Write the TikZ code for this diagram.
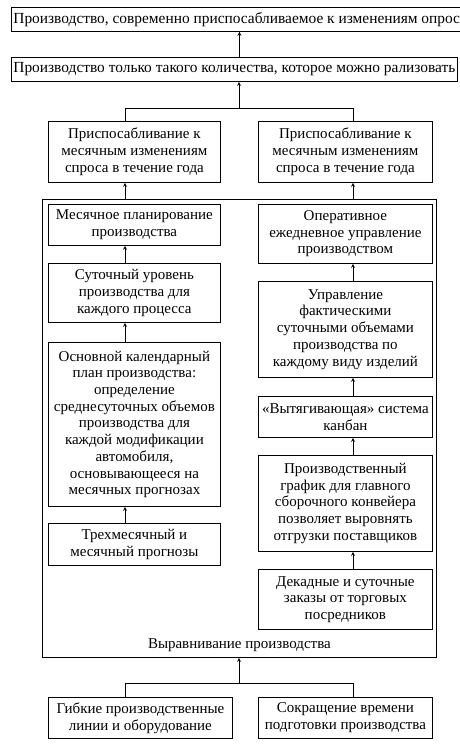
\documentclass[tikz,border=0pt]{standalone}
\usepackage{fontspec}
\setmainfont{Liberation Serif}
\usetikzlibrary{positioning}
\usetikzlibrary{arrows}
\tikzset{box/.style={draw, line width=0.8pt, inner sep=0pt, align=center, anchor=north west,
  font=\fontsize{15}{16.7}\selectfont}}
\tikzset{arr/.style={-stealth, line width=0.8pt}}
\tikzset{wide/.style={box, inner xsep=2pt, minimum height=24pt, font=\fontsize{15.4}{16.7}\selectfont}}
\begin{document}
\begin{tikzpicture}[x=1pt,y=-1pt]
\useasboundingbox (0,0) rectangle (459,749);
\coordinate (colL) at (125,0);
\coordinate (colR) at (353,0);
% top
\node[wide] (top1) at (11,7) {Производство, современно приспосабливаемое к изменениям опроса};
\node[wide] (top2) at (11,57) {Производство только такого количества, которое можно рализовать};
\node[box, minimum width=172pt, minimum height=61pt] (adaptL) at (48,121) {Приспосабливание к\\ месячным изменениям\\ спроса в течение года};
\node[box, minimum width=174pt, minimum height=61pt] (adaptR) at (258,121) {Приспосабливание к\\ месячным изменениям\\ спроса в течение года};
% levelling frame
\node[draw, line width=0.8pt, inner sep=0pt, anchor=north west, minimum width=394pt, minimum height=458pt] (level) at (42,199) {};
\node[font=\fontsize{15}{16.7}\selectfont, inner sep=0pt] (levlab) at ([yshift=13pt]level.south) {Выравнивание производства};
% left column
\node[box, minimum width=172pt, minimum height=41pt] (month) at (48,204) {Месячное планирование\\ производства};
\node[box, minimum width=172pt, minimum height=59pt] (daily) at (48,263) {Суточный уровень\\ производства для\\ каждого процесса};
\node[box, minimum width=172pt, minimum height=164pt] (master) at (48,342) {Основной календарный\\ план производства:\\ определение\\ среднесуточных объемов\\ производства для\\ каждой модификации\\ автомобиля,\\ основывающееся на\\ месячных прогнозах};
\node[box, minimum width=172pt, minimum height=42pt] (fcast) at (48,523) {Трехмесячный и\\ месячный прогнозы};
% right column
\node[box, minimum width=174pt, minimum height=59pt] (oper) at (258,204) {Оперативное\\ ежедневное управление\\ производством};
\node[box, minimum width=174pt, minimum height=96pt] (ctrl) at (258,281) {Управление\\ фактическими\\ суточными объемами\\ производства по\\ каждому виду изделий};
\node[box, minimum width=174pt, minimum height=41pt] (kanban) at (258,396) {«Вытягивающая» система\\ канбан};
\node[box, minimum width=174pt, minimum height=96pt] (sched) at (258,455) {Производственный\\ график для главного\\ сборочного конвейера\\ позволяет выровнять\\ отгрузки поставщиков};
\node[box, minimum width=174pt, minimum height=60pt] (orders) at (258,569) {Декадные и суточные\\ заказы от торговых\\ посредников};
% bottom
\node[box, minimum width=184pt, minimum height=41pt] (flex) at (48,697) {Гибкие производственные\\ линии и оборудование};
\node[box, minimum width=174pt, minimum height=41pt] (setup) at (258,697) {Сокращение времени\\ подготовки производства};
\coordinate (j1) at (239,108);
\coordinate (j2) at (239,683);
% connectors
\draw[arr] (top2.north -| level.north) -- (top1.south -| level.north);
\draw[line width=0.8pt] (adaptL.north -| colL) -- (colL |- j1) -- (colR |- j1) -- (adaptR.north -| colR);
\draw[arr] (j1) -- (top2.south -| j1);
\draw[arr] (level.north -| colL) -- (adaptL.south -| colL);
\draw[arr] (level.north -| colR) -- (adaptR.south -| colR);
\draw[arr] (daily.north -| colL) -- (month.south -| colL);
\draw[arr] (master.north -| colL) -- (daily.south -| colL);
\draw[arr] (fcast.north -| colL) -- (master.south -| colL);
\draw[arr] (ctrl.north -| colR) -- (oper.south -| colR);
\draw[arr] (kanban.north -| colR) -- (ctrl.south -| colR);
\draw[arr] (sched.north -| colR) -- (kanban.south -| colR);
\draw[arr] (orders.north -| colR) -- (sched.south -| colR);
\draw[line width=0.8pt] (flex.north -| colL) -- (colL |- j2) -- (colR |- j2) -- (setup.north -| colR);
\draw[arr] (j2) -- (level.south -| j2);
\end{tikzpicture}
\end{document}
